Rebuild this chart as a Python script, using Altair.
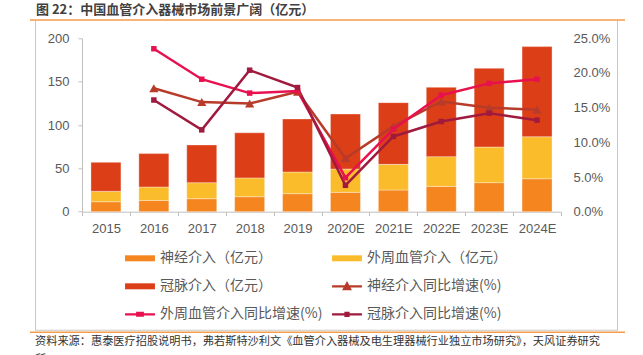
import altair as alt
import pandas as pd

# ---------------- data ----------------
years = ["2015", "2016", "2017", "2018", "2019", "2020E", "2021E", "2022E", "2023E", "2024E"]
neuro = [11.5, 13.0, 15.0, 17.3, 20.8, 22.3, 25.0, 29.2, 33.5, 38.0]
peripheral = [12.0, 15.5, 18.5, 21.7, 25.0, 26.9, 29.6, 34.3, 41.1, 48.5]
coronary = [33.5, 38.5, 43.5, 52.0, 61.2, 63.5, 71.2, 80.0, 90.8, 103.9]

neuro_g = [None, 17.8, 15.8, 15.6, 17.3, 7.7, 12.3, 15.9, 15.0, 14.7]
peripheral_g = [None, 23.5, 19.1, 17.1, 17.4, 4.9, 11.9, 16.8, 18.5, 19.1]
coronary_g = [None, 16.1, 11.8, 20.4, 17.9, 3.8, 10.85, 13.0, 14.2, 13.2]

bar_names = ["神经介入（亿元）", "外周血管介入（亿元）", "冠脉介入（亿元）"]
line_names = ["神经介入同比增速(%)", "外周血管介入同比增速(%)", "冠脉介入同比增速(%)"]
legend_order = [bar_names[0], bar_names[1], bar_names[2], line_names[0], line_names[1], line_names[2]]

colors = {
    bar_names[0]: "#F5851F",
    bar_names[1]: "#FBBC2C",
    bar_names[2]: "#DC3E18",
    line_names[0]: "#B83B2A",
    line_names[1]: "#E8114F",
    line_names[2]: "#A01A3E",
}

title_text = ["图 22：中国血管介入器械市场前景广阔（亿元）"]
source_text = ["资料来源：惠泰医疗招股说明书，弗若斯特沙利文《血管介入器械及电生理器械行业独立市场研究》，天风证券研究"]
source_text2 = ["所"]

# ---------------- tables ----------------
bar_rows = []
for i, y in enumerate(years):
    for k, (name, vals) in enumerate(zip(bar_names, [neuro, peripheral, coronary])):
        bar_rows.append({"year": y, "series": name, "value": vals[i], "ord": k})
bars_df = pd.DataFrame(bar_rows)

line_rows = []
for k, (name, vals) in enumerate(zip(line_names, [neuro_g, peripheral_g, coronary_g])):
    for i, y in enumerate(years):
        if vals[i] is not None:
            line_rows.append({"year": y, "series": name, "g": vals[i] / 100.0, "k": k})
lines_df = pd.DataFrame(line_rows)

FONT = "Liberation Sans"
CJK = "Noto Sans CJK SC"
LABEL = "#595959"
AXIS = "#BFBFBF"

color_scale = alt.Scale(domain=legend_order, range=[colors[n] for n in legend_order])

p_bar = "M-1.15,-0.23H1.15V0.23H-1.15Z"
p_tri = "M-1.15,-0.09H1.15V0.09H-1.15Z M-0.38,0.3L0,-0.4L0.38,0.3Z"
p_sq1 = "M-1.15,-0.09H1.15V0.09H-1.15Z M-0.3,-0.19H0.3V0.19H-0.3Z"
p_sq2 = "M-1.15,-0.09H1.15V0.09H-1.15Z M-0.2,-0.2H0.2V0.2H-0.2Z"
shape_scale = alt.Scale(domain=legend_order, range=[p_bar, p_bar, p_bar, p_tri, p_sq1, p_sq2])

legend_def = alt.Legend(title=None, orient="none", legendX=45, legendY=207, direction="horizontal",
                        columns=2, gridAlign="all", symbolSize=676, symbolStrokeWidth=0, symbolOpacity=1,
                        labelFont=CJK, labelFontSize=14, labelColor=LABEL,
                        labelOffset=7, rowPadding=8, columnPadding=9, labelLimit=400)

color_enc = alt.Color("series:N", scale=color_scale, legend=legend_def)

x_enc = alt.X("year:N", sort=years, scale=alt.Scale(paddingInner=0, paddingOuter=0),
              axis=alt.Axis(title=None, labelAngle=0, tickBand="extent", tickSize=4,
                            domainColor=AXIS, tickColor=AXIS, labelColor=LABEL,
                            labelFont=FONT, labelFontSize=13, labelPadding=7))

bars = alt.Chart(bars_df).mark_bar(size=30, stroke="white", strokeOpacity=0.35, strokeWidth=1).encode(
    x=x_enc,
    y=alt.Y("value:Q", stack="zero", scale=alt.Scale(domain=[0, 200], nice=False),
            axis=alt.Axis(title=None, values=[0, 50, 100, 150, 200], grid=False, tickSize=4,
                          domainColor=AXIS, tickColor=AXIS, labelColor=LABEL,
                          labelFont=FONT, labelFontSize=13, labelPadding=9)),
    color=color_enc,
    order=alt.Order("ord:Q", sort="ascending"),
)

y_axis_r = alt.Axis(title=None, orient="right", format=".1%",
                    values=[0, 0.05, 0.10, 0.15, 0.20, 0.25], grid=False,
                    domain=False, ticks=False, labelColor=LABEL,
                    labelFont=FONT, labelFontSize=13, labelPadding=12)
y_line = alt.Y("g:Q", scale=alt.Scale(domain=[0, 0.25], nice=False), axis=y_axis_r)

lines = alt.Chart(lines_df).mark_line(strokeWidth=2.5).encode(
    x=alt.X("year:N", sort=years),
    y=y_line,
    color=color_enc,
    detail="series:N",
)
pts_tri = alt.Chart(lines_df).transform_filter(alt.datum.k == 0).mark_point(
    shape="triangle-up", filled=True, size=85, opacity=1).encode(
    x=alt.X("year:N", sort=years), y=y_line, color=color_enc)
pts_sq = alt.Chart(lines_df).transform_filter(alt.datum.k > 0).mark_point(
    shape="square", filled=True, size=30, opacity=1).encode(
    x=alt.X("year:N", sort=years), y=y_line, color=color_enc)

legend_layer = alt.Chart(lines_df).transform_filter("false").mark_point(filled=True, opacity=1).encode(
    color=color_enc,
    shape=alt.Shape("series:N", scale=shape_scale, legend=legend_def),
)

line_group = alt.layer(lines, pts_tri, pts_sq, legend_layer)

one = pd.DataFrame({"t": title_text})
title = alt.Chart(one).mark_text(align="left", baseline="middle", font=CJK, fontSize=13,
                                 fontWeight="bold", color="#404040").encode(
    x=alt.value(-46), y=alt.value(-28), text="t:N")
src = alt.Chart(pd.DataFrame({"t": source_text})).mark_text(
    align="left", baseline="middle", font=CJK, fontSize=11.2, color="#333333").encode(
    x=alt.value(-47), y=alt.value(303.7), text="t:N")
src2 = alt.Chart(pd.DataFrame({"t": source_text2})).mark_text(
    align="left", baseline="middle", font=CJK, fontSize=11.2, color="#333333").encode(
    x=alt.value(-47), y=alt.value(322), text="t:N")

def band(x1, x2, y1, y2, color):
    # thin filled rectangle used as a decorative line
    return alt.Chart(one).mark_rect(fill=color, strokeWidth=0, opacity=1).encode(
        x=alt.value(x1), x2=alt.value(x2), y=alt.value(y1), y2=alt.value(y2))

ORANGE = "#F39C4A"
FRAME = "#C8C8C8"
top_line = band(-52, 543, -19, -17.5, ORANGE)
bot_line = band(-52, 543, 293.2, 294.7, ORANGE)
fr_l = band(-47, -46, -18, 292, FRAME)
fr_r = band(535, 536, -18, 292, FRAME)
fr_b = band(-47, 536, 291.5, 292.5, FRAME)

chart = alt.layer(
    bars, line_group, title, src, src2, fr_l, fr_r, fr_b, top_line, bot_line,
).resolve_scale(y="independent").properties(
    width=479, height=173.4,
    padding={"left": 82, "top": 38.3, "right": 82, "bottom": 143.3},
    autosize=alt.AutoSizeParams(type="none"),
).configure_view(stroke=None)

chart.save("out.html", embed_options={"renderer": "svg", "actions": False})
